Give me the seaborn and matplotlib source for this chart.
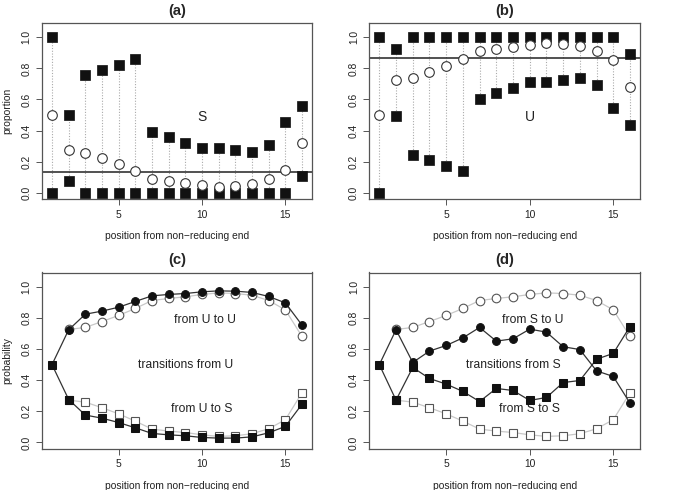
import numpy as np
import pandas as pd
import matplotlib
matplotlib.use("Agg")
import matplotlib.pyplot as plt
import seaborn as sns

sns.set_style("white")
plt.rcParams['font.family'] = ['Liberation Sans', 'DejaVu Sans']

positions = list(range(1, 17))

# panel (a): S proportions
a_upper = [1.0, 0.501, 0.758, 0.790, 0.824, 0.859, 0.392, 0.360, 0.321, 0.289, 0.289, 0.274, 0.263, 0.306, 0.452, 0.561]
a_lower = [0.0, 0.073, 0.0, 0.0, 0.0, 0.0, 0.0, 0.0, 0.0, 0.0, 0.0, 0.0, 0.0, 0.0, 0.0, 0.107]
a_mid = [0.500, 0.272, 0.259, 0.223, 0.184, 0.137, 0.086, 0.073, 0.064, 0.049, 0.039, 0.043, 0.056, 0.088, 0.146, 0.319]
a_hline = 0.135

# panel (b): U proportions
b_upper = [1.0, 0.927, 1.0, 1.0, 1.0, 1.0, 1.0, 1.0, 1.0, 1.0, 1.0, 1.0, 1.0, 1.0, 1.0, 0.895]
b_lower = [0.0, 0.497, 0.240, 0.210, 0.173, 0.139, 0.606, 0.640, 0.677, 0.711, 0.711, 0.724, 0.737, 0.692, 0.546, 0.437]
b_mid = [0.500, 0.726, 0.739, 0.777, 0.816, 0.861, 0.912, 0.925, 0.936, 0.951, 0.961, 0.957, 0.946, 0.912, 0.852, 0.681]
b_hline = 0.865

# panel (c): transitions from U
c_UU = [0.5, 0.724, 0.824, 0.844, 0.869, 0.906, 0.942, 0.951, 0.957, 0.968, 0.974, 0.972, 0.964, 0.938, 0.897, 0.754]
c_US = [0.5, 0.276, 0.176, 0.156, 0.128, 0.094, 0.058, 0.049, 0.043, 0.032, 0.028, 0.028, 0.036, 0.062, 0.103, 0.246]

# panel (d): transitions from S
d_SU = [0.5, 0.724, 0.514, 0.587, 0.623, 0.672, 0.739, 0.651, 0.666, 0.728, 0.709, 0.615, 0.597, 0.460, 0.424, 0.253]
d_SS = [0.5, 0.272, 0.482, 0.411, 0.375, 0.328, 0.263, 0.347, 0.334, 0.270, 0.289, 0.385, 0.398, 0.535, 0.572, 0.745]

# reference (open) curves, same as middle points of (b) and (a)
ref_U = b_mid
ref_S = a_mid

xticks = [5, 10, 15]
yticks = [0.0, 0.2, 0.4, 0.6, 0.8, 1.0]
ytick_labels = ["0.0", "0.2", "0.4", "0.6", "0.8", "1.0"]

FS = 7.4
TXT = 8.7
BOX = "#555555"

fig = plt.figure(figsize=(6.85, 4.9), dpi=100)
W, H = 685, 490
def add_ax(l, r, t, b):
    return fig.add_axes([l / W, 1 - b / H, (r - l) / W, (b - t) / H])

ax_a = add_ax(42, 312, 23, 199.3)
ax_b = add_ax(369.3, 640, 23, 199.3)
ax_c = add_ax(42, 312, 272.5, 449)
ax_d = add_ax(369.3, 640, 272.5, 449)

def style(ax, title, ylabel):
    ax.set_xlim(0.4, 16.6)
    ax.set_ylim(-0.042, 1.092)
    ax.set_xticks(xticks)
    ax.set_xticklabels([str(t) for t in xticks], fontsize=FS, color="#222222")
    ax.set_yticks(yticks)
    ax.set_yticklabels(ytick_labels, fontsize=FS, rotation=90, va="center", color="#222222")
    ax.tick_params(axis="both", direction="out", length=4.5, width=0.7, color=BOX, pad=3, bottom=True, left=True)
    for s in ax.spines.values():
        s.set_color(BOX)
        s.set_linewidth(0.9)
        s.set_visible(True)
    ax.set_xlabel("position from non\u2212reducing end", fontsize=FS, labelpad=8, color="#222222")
    if ylabel:
        ax.set_ylabel(ylabel, fontsize=FS, labelpad=7, color="#222222")
    else:
        ax.set_ylabel("")
    ax.set_title(title, fontsize=10.6, fontweight="bold", pad=6)

# panels (a) and (b)
for ax, up, lo, mid, hl, lab, title, ylab in [
    (ax_a, a_upper, a_lower, a_mid, a_hline, "S", "(a)", "proportion"),
    (ax_b, b_upper, b_lower, b_mid, b_hline, "U", "(b)", ""),
]:
    ax.vlines(positions, lo, up, colors="#aaaaaa", linestyles=(0, (1, 1.5)), linewidth=0.8, zorder=1)
    ax.axhline(hl, color="#222222", linewidth=1.1, zorder=2)
    df = pd.DataFrame({"pos": positions * 2, "val": up + lo})
    sns.scatterplot(data=df, x="pos", y="val", ax=ax, marker="s", s=42, color="#111111",
                    edgecolor="#111111", linewidth=0.5, zorder=3)
    dm = pd.DataFrame({"pos": positions, "val": mid})
    sns.scatterplot(data=dm, x="pos", y="val", ax=ax, marker="o", s=48, facecolor="white",
                    edgecolor="#333333", linewidth=0.8, zorder=3)
    ax.text(10, 0.49, lab, fontsize=10, ha="center", va="center", color="#222222")
    style(ax, title, ylab)

# panels (c) and (d)
for ax, circ, sq, t1, t2, t3, title, ylab in [
    (ax_c, c_UU, c_US, "from U to U", "transitions from U", "from U to S", "(c)", "probability"),
    (ax_d, d_SU, d_SS, "from S to U", "transitions from S", "from S to S", "(d)", ""),
]:
    ro = pd.DataFrame({"pos": positions[1:], "val": ref_U[1:]})
    rs = pd.DataFrame({"pos": positions[1:], "val": ref_S[1:]})
    sns.lineplot(data=ro, x="pos", y="val", ax=ax, color="#c8c8c8", linewidth=0.9, marker="o",
                 markersize=6.2, markerfacecolor="white", markeredgecolor="#555555",
                 markeredgewidth=0.8, zorder=2)
    sns.lineplot(data=rs, x="pos", y="val", ax=ax, color="#c8c8c8", linewidth=0.9, marker="s",
                 markersize=5.6, markerfacecolor="white", markeredgecolor="#555555",
                 markeredgewidth=0.8, zorder=2)
    dc = pd.DataFrame({"pos": positions, "val": circ})
    ds = pd.DataFrame({"pos": positions, "val": sq})
    sns.lineplot(data=dc, x="pos", y="val", ax=ax, color="#333333", linewidth=0.9, marker="o",
                 markersize=5.6, markerfacecolor="#111111", markeredgecolor="#111111", zorder=3)
    sns.lineplot(data=ds, x="pos", y="val", ax=ax, color="#333333", linewidth=0.9, marker="s",
                 markersize=5.6, markerfacecolor="#111111", markeredgecolor="#111111", zorder=4)
    ax.text(10.2, 0.785, t1, fontsize=TXT, ha="center", va="center", color="#222222")
    ax.text(9.0, 0.498, t2, fontsize=TXT, ha="center", va="center", color="#222222")
    ax.text(10.0, 0.212, t3, fontsize=TXT, ha="center", va="center", color="#222222")
    style(ax, title, ylab)

fig.savefig("out.png", dpi=100)
